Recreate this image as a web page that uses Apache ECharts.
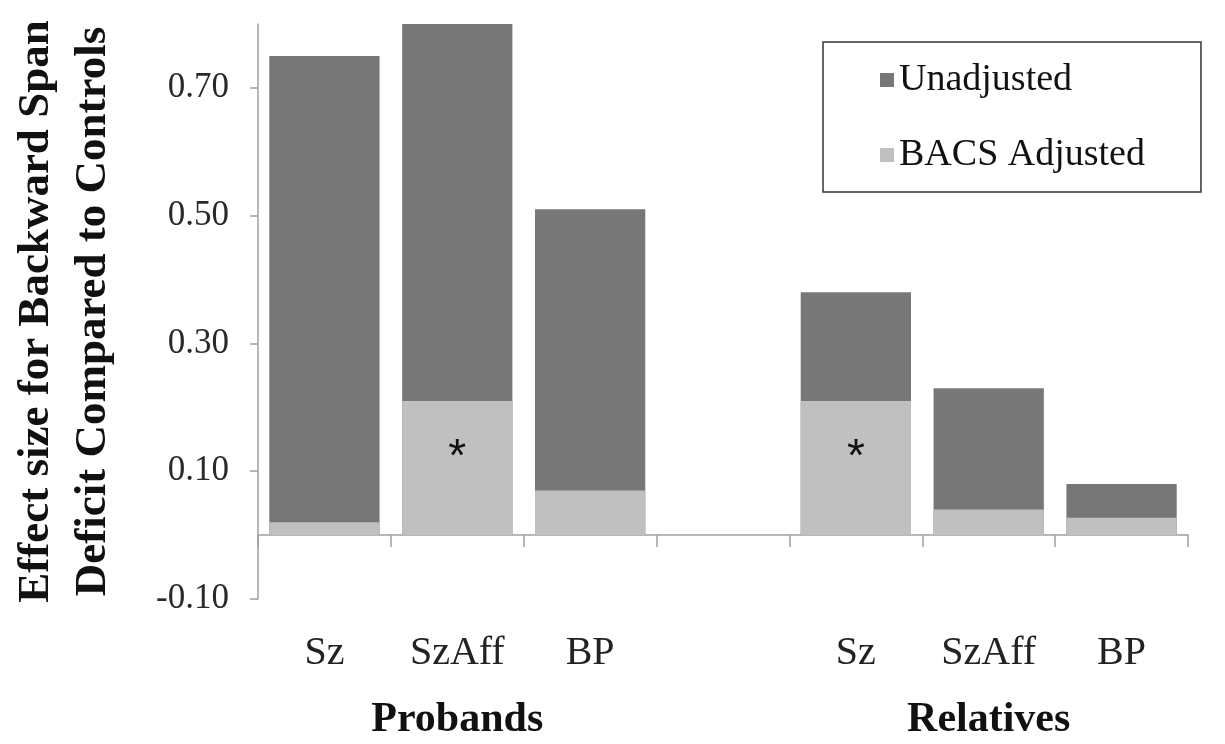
<!DOCTYPE html>
<html>
<head>
<meta charset="utf-8">
<script src="https://cdn.jsdelivr.net/npm/echarts@6/dist/echarts.min.js"></script>
<style>html,body{margin:0;padding:0;background:#fff}#c{width:1225px;height:744px}</style>
</head>
<body>
<div id="c"></div>
<script>
const categories = ['Sz', 'SzAff', 'BP', '', 'Sz', 'SzAff', 'BP'];
const groupLabels = ['', 'Probands', '', '', '', 'Relatives', ''];
const unadjusted = [0.75, 0.80, 0.51, null, 0.38, 0.23, 0.08];
const bacsAdjusted = [0.02, 0.21, 0.07, null, 0.21, 0.04, 0.027];
const significant = [false, true, false, false, true, false, false];
const yTickLabels = [-0.1, 0.1, 0.3, 0.5, 0.7];

const serif = '"Liberation Serif", "DejaVu Serif", serif';
const chart = echarts.init(document.getElementById('c'));
chart.setOption({
  animation: false,
  backgroundColor: '#fff',
  grid: { left: 257, right: 37, top: 24, bottom: 145, containLabel: false },
  legend: {
    orient: 'vertical', left: 823, top: 42,
    padding: [19, 56, 18, 57], itemGap: 37,
    itemWidth: 14, itemHeight: 14,
    borderColor: '#333', borderWidth: 1.5,
    textStyle: { fontFamily: serif, fontSize: 38, color: '#111' },
    data: [{ name: 'Unadjusted', icon: 'rect' }, { name: 'BACS Adjusted', icon: 'rect' }]
  },
  xAxis: [{
    type: 'category', data: categories, boundaryGap: true,
    axisLine: { onZero: true, lineStyle: { color: '#a0a0a0', width: 1.5 } },
    axisTick: { show: true, length: 12, alignWithLabel: false, lineStyle: { color: '#a0a0a0', width: 1.5 } },
    axisLabel: { margin: 34, fontFamily: serif, fontSize: 40, color: '#222', interval: 0 }
  }, {
    type: 'category', data: groupLabels, position: 'bottom',
    axisLine: { show: false, onZero: false }, axisTick: { show: false },
    axisLabel: { margin: 100, fontFamily: serif, fontSize: 42, fontWeight: 'bold', color: '#111', interval: 0 }
  }],
  yAxis: {
    type: 'value', min: -0.1, max: 0.8, interval: 0.1,
    name: 'Effect size for Backward Span\nDeficit Compared to Controls',
    nameLocation: 'middle', nameGap: 136, nameRotate: 90,
    nameTextStyle: { fontFamily: serif, fontSize: 45, fontWeight: 'bold', color: '#111', lineHeight: 57 },
    splitLine: { show: false },
    axisLine: { show: true, lineStyle: { color: '#a0a0a0', width: 1.5 } },
    axisTick: { show: true, length: 8, customValues: yTickLabels, lineStyle: { color: '#a0a0a0', width: 1.5 } },
    axisLabel: { margin: 29, fontFamily: serif, fontSize: 35, color: '#2a2a2a', customValues: yTickLabels,
      formatter: v => v.toFixed(2) }
  },
  series: [{
    name: 'Unadjusted', type: 'bar', data: unadjusted,
    barCategoryGap: '17%', barGap: '-100%',
    itemStyle: { color: '#777777' }
  }, {
    name: 'BACS Adjusted', type: 'bar', data: bacsAdjusted.map((v, i) => ({
      value: v,
      label: { show: significant[i], position: 'inside', formatter: '*', offset: [0, -10],
        fontFamily: '"Liberation Sans", Arial, sans-serif', fontSize: 46, color: '#111' }
    })),
    barCategoryGap: '17%', barGap: '-100%',
    itemStyle: { color: '#c0c0c0' }
  }]
});
</script>
</body>
</html>
